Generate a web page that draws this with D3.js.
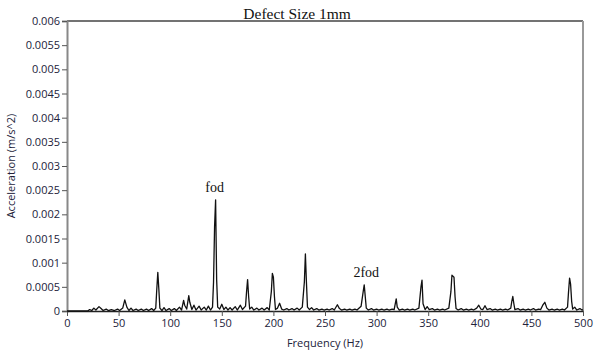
<!DOCTYPE html>
<html>
<head>
<meta charset="utf-8">
<script src="https://cdn.jsdelivr.net/npm/d3@7"></script>
<style>
  body { margin: 0; background: #fff; }
  svg { display: block; }
</style>
</head>
<body>
<div id="chart"></div>
<script>
// spectrum (Hz, m/s^2)
const freqHz = [0, 20, 22, 24, 26, 28, 31, 33, 35, 38, 40, 43, 46, 49, 51, 54, 56, 58, 60, 62, 64, 67, 69, 72, 74, 77, 79, 82, 84,
  86, 87, 88, 89, 90, 92, 94, 96, 99, 101, 104, 106, 109, 111, 113, 114, 116, 118, 119, 121, 123, 125, 128, 130, 133, 135, 137, 139,
  141, 142, 143, 144, 145, 146, 148, 150, 152, 154, 156, 158, 160, 163, 165, 168, 170, 173, 174, 175, 176, 177, 179, 181, 184, 186,
  189, 191, 194, 196, 198, 199, 200, 201, 202, 204, 206, 208, 210, 213, 215, 218, 220, 223, 225, 228, 230, 231, 232, 233, 235, 237,
  239, 242, 244, 247, 249, 252, 254, 257, 259, 262, 264, 266, 269, 271, 274, 276, 279, 281, 285, 287, 288, 289, 290, 292, 295, 297,
  300, 302, 305, 307, 310, 312, 315, 317, 319, 320, 322, 325, 327, 330, 332, 335, 337, 341, 343, 344, 345, 347, 349, 351, 354, 356,
  359, 361, 364, 366, 370, 372, 373, 375, 376, 377, 379, 382, 384, 387, 389, 392, 394, 397, 399, 401, 403, 405, 407, 410, 412, 415,
  417, 420, 422, 425, 427, 430, 431, 432, 433, 434, 437, 439, 442, 444, 447, 449, 452, 454, 457, 459, 461, 463, 465, 467, 470, 472,
  475, 477, 480, 482, 485, 486, 487, 488, 489, 490, 492, 494, 497, 499, 500];
const accel = [0, 0, 0.00003, 0.00001, 0.00006, 0.00002, 0.00009, 0.00005, 0.00001, 0.00004, 0.00001, 0.00003, 0.00001, 0.00004, 0.00001, 0.00006, 0.00023, 0.00008, 0.00001, 0.00006, 0.00001, 0.00004, 0.00001, 0.00004, 0.00001, 0.00004, 0.00001, 0.00005, 0.00001,
  0.00006, 0.00045, 0.0008, 0.00045, 0.00006, 0.00001, 0.00007, 0.00001, 0.00005, 0.00001, 0.00005, 0.00001, 0.00008, 0.00002, 0.00022, 0.00012, 0.00004, 0.00032, 0.00018, 0.00003, 0.00012, 0.00002, 0.0001, 0.00002, 0.00008, 0.00002, 0.0001, 0.00002,
  0.00008, 0.0006, 0.00175, 0.0023, 0.00065, 0.00008, 0.00004, 0.00014, 0.00003, 0.00008, 0.00002, 0.00007, 0.00002, 0.00009, 0.00002, 0.00012, 0.00003, 0.0001, 0.0004, 0.00065, 0.0003, 0.00004, 0.00008, 0.00002, 0.00006, 0.00002,
  0.00006, 0.00002, 0.00007, 0.00002, 0.0004, 0.00078, 0.0007, 0.0003, 0.00003, 0.00006, 0.00016, 0.00004, 0.00002, 0.00005, 0.00002, 0.00005, 0.00002, 0.00006, 0.00002, 0.00008, 0.0006, 0.00118, 0.0006, 0.00008, 0.00003, 0.00007,
  0.00002, 0.00005, 0.00002, 0.00004, 0.00002, 0.00004, 0.00002, 0.00005, 0.00002, 0.00013, 0.00005, 0.00002, 0.00004, 0.00002, 0.00004, 0.00002, 0.00004, 0.00002, 0.0001, 0.0004, 0.00054, 0.0003, 0.00006, 0.00002, 0.00005, 0.00002,
  0.00004, 0.00002, 0.00004, 0.00002, 0.00004, 0.00002, 0.00004, 0.00003, 0.00025, 0.00008, 0.00002, 0.00004, 0.00002, 0.00004, 0.00002, 0.00004, 0.00002, 0.00006, 0.0005, 0.00064, 0.00015, 0.00003, 0.00009, 0.00003, 0.00005, 0.00002,
  0.00004, 0.00002, 0.00004, 0.00002, 0.00006, 0.0004, 0.00074, 0.0007, 0.0003, 0.00005, 0.00002, 0.00005, 0.00002, 0.00004, 0.00002, 0.00004, 0.00002, 0.00006, 0.00012, 0.00004, 0.00003, 0.00011, 0.00003, 0.00005, 0.00002, 0.00004,
  0.00002, 0.00004, 0.00002, 0.00004, 0.00002, 0.00006, 0.0002, 0.0003, 0.00015, 0.00003, 0.00005, 0.00002, 0.00004, 0.00002, 0.00004, 0.00002, 0.00005, 0.00002, 0.00004, 0.00003, 0.00012, 0.00018, 0.00006, 0.00002, 0.00004, 0.00002,
  0.00004, 0.00002, 0.00004, 0.00002, 0.00008, 0.0004, 0.00068, 0.00055, 0.0002, 0.00004, 0.00008, 0.00002, 0.00005, 0.00002, 0.00003];

const xTicks = [0, 50, 100, 150, 200, 250, 300, 350, 400, 450, 500];
const yTicks = [0, 0.0005, 0.001, 0.0015, 0.002, 0.0025, 0.003, 0.0035, 0.004, 0.0045, 0.005, 0.0055, 0.006];
const peakLabels = ['fod', '2fod'];
const peakFreqs = [144, 288];
const peakAccel = [0.0023, 0.00054];

const W = 594, H = 353;
const margin = { top: 21, right: 11, bottom: 42, left: 67 };
const width = W - margin.left - margin.right;
const height = H - margin.top - margin.bottom;

const svg = d3.select('#chart').append('svg')
  .attr('width', W)
  .attr('height', H);

const g = svg.append('g')
  .attr('transform', `translate(${margin.left},${margin.top})`);

const x = d3.scaleLinear().domain([0, 500]).range([0, width]);
const y = d3.scaleLinear().domain([0, 0.006]).range([height, 0]);

const tickFont = '"Open Sans", "DejaVu Sans", sans-serif';
const serif = '"Liberation Serif", "DejaVu Serif", serif';

// Frame: dark top, grey sides
g.append('line')
  .attr('x1', 0).attr('x2', width).attr('y1', 0).attr('y2', 0)
  .attr('stroke', '#444').attr('stroke-width', 1.5);
g.append('line')
  .attr('x1', width).attr('x2', width).attr('y1', 0).attr('y2', height)
  .attr('stroke', '#999').attr('stroke-width', 2);

// y axis
const yAxis = g.append('g')
  .call(d3.axisLeft(y).tickValues(yTicks).tickSize(5).tickFormat(d => d3.format('')(+d.toFixed(4))));
yAxis.select('.domain').attr('stroke', '#888').attr('stroke-width', 2);
yAxis.selectAll('.tick line').attr('stroke', '#555');
yAxis.selectAll('text')
  .style('font-family', tickFont)
  .style('font-size', '11px')
  .attr('fill', '#22223a')
  .attr('x', -7);

// x axis
const xAxis = g.append('g')
  .attr('transform', `translate(0,${height})`)
  .call(d3.axisBottom(x).tickValues(xTicks).tickSize(5).tickSizeOuter(0));
xAxis.select('.domain').attr('stroke', '#222').attr('stroke-width', 1.5);
xAxis.selectAll('.tick line').attr('stroke', '#555');
xAxis.selectAll('text')
  .style('font-family', tickFont)
  .style('font-size', '11px')
  .attr('fill', '#22223a')
  .attr('y', 8);

// Spectrum line
const points = freqHz.map((f, i) => [f, accel[i]]);
const line = d3.line()
  .x(d => x(d[0]))
  .y(d => y(d[1]));

g.append('path')
  .datum(points)
  .attr('fill', 'none')
  .attr('stroke', '#111')
  .attr('stroke-width', 1.3)
  .attr('stroke-linejoin', 'round')
  .attr('d', line);

// Peak annotations
peakLabels.forEach((label, i) => {
  g.append('text')
    .attr('x', x(peakFreqs[i]) + (i === 0 ? -1 : 2))
    .attr('y', y(peakAccel[i]) - 8)
    .attr('text-anchor', 'middle')
    .style('font-family', serif)
    .style('font-size', '14px')
    .attr('fill', '#111')
    .text(label);
});

// Title
svg.append('text')
  .attr('x', margin.left + x(223))
  .attr('y', 19)
  .attr('text-anchor', 'middle')
  .style('font-family', serif)
  .style('font-size', '15.5px')
  .attr('fill', '#111')
  .text('Defect Size 1mm');

// Axis labels
svg.append('text')
  .attr('x', margin.left + width / 2)
  .attr('y', 347)
  .attr('text-anchor', 'middle')
  .style('font-family', tickFont)
  .style('font-size', '11px')
  .attr('fill', '#22223a')
  .text('Frequency (Hz)');

svg.append('text')
  .attr('transform', `translate(15,${margin.top + height / 2}) rotate(-90)`)
  .attr('text-anchor', 'middle')
  .style('font-family', tickFont)
  .style('font-size', '11px')
  .attr('fill', '#22223a')
  .text('Acceleration (m/s^2)');
</script>
</body>
</html>
